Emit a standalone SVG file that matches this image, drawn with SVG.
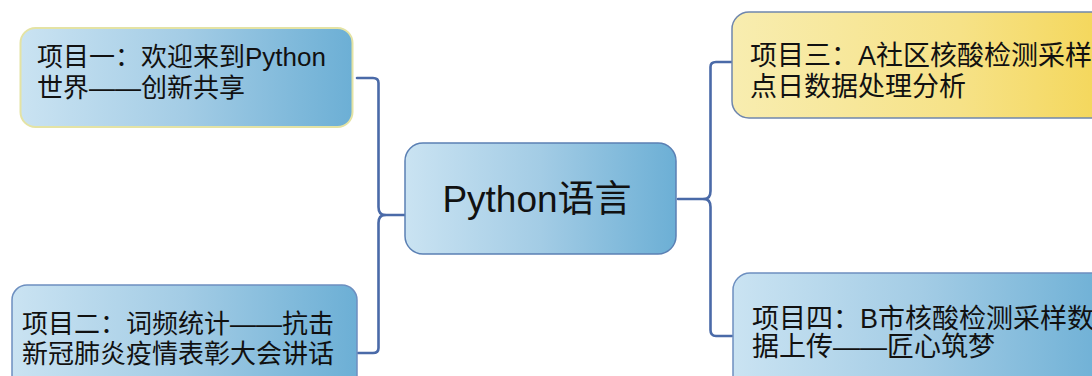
<svg xmlns="http://www.w3.org/2000/svg" width="1092" height="376" viewBox="0 0 1092 376">
  <defs>
    <linearGradient id="blueFill" x1="0" y1="0" x2="1" y2="0">
      <stop offset="0" stop-color="#cae3f2"/>
      <stop offset="0.5" stop-color="#a3cce5"/>
      <stop offset="1" stop-color="#6cafd5"/>
    </linearGradient>
    <linearGradient id="yellowFill" x1="0" y1="0" x2="1" y2="0">
      <stop offset="0" stop-color="#f8edb0"/>
      <stop offset="0.6" stop-color="#f6e287"/>
      <stop offset="1" stop-color="#f4d658"/>
    </linearGradient>
    <style>
      .box-blue { fill: url(#blueFill); stroke: #6d8fc0; stroke-width: 1.5; }
      .box-blue-y { fill: url(#blueFill); stroke: #e4e3a4; stroke-width: 2; }
      .box-yellow { fill: url(#yellowFill); stroke: #6f86ad; stroke-width: 1.5; }
      .box-center { fill: url(#blueFill); stroke: #5b80b4; stroke-width: 1.5; }
      .label { font-family: "Liberation Sans", "Noto Sans CJK SC", sans-serif; font-size: 26px; fill: #111; }
      .label-wide { font-size: 27px; }
      .title { font-family: "Liberation Sans", "Noto Sans CJK SC", sans-serif; font-size: 37px; fill: #111; }
      .link { fill: none; stroke: #4a6aa8; stroke-width: 2.6; stroke-linecap: round; stroke-linejoin: round; }
    </style>
  </defs>

  <rect width="1092" height="376" fill="#ffffff"/>

  <!-- connectors: a brace on each side of the central topic -->
  <g id="connectors">
    <path class="link" d="M357 78 H373 Q378.5 78 378.5 83 V207 Q378.5 215 385 215 Q378.5 215 378.5 223 V348 Q378.5 353 373 353 H358"/>
    <path class="link" d="M385 215 H408"/>
    <path class="link" d="M732 62 H716 Q710.5 62 710.5 67 V191 Q710.5 199 704 199 Q710.5 199 710.5 207 V330 Q710.5 336 716 336 H732"/>
    <path class="link" d="M678 199 H704"/>
  </g>

  <g id="node-project1">
    <rect class="box-blue-y" x="20.5" y="28" width="332" height="99" rx="15"/>
    <text class="label"><tspan x="37" y="66">项目一：欢迎来到Python</tspan><tspan x="37" y="97">世界——创新共享</tspan></text>
  </g>

  <g id="node-project2">
    <rect class="box-blue" x="12" y="285" width="345" height="110" rx="15"/>
    <text class="label"><tspan x="22" y="333">项目二：词频统计——抗击</tspan><tspan x="22" y="363">新冠肺炎疫情表彰大会讲话</tspan></text>
  </g>

  <g id="node-python">
    <rect class="box-center" x="405" y="143" width="271" height="111" rx="18"/>
    <text class="title" x="537" y="212" text-anchor="middle">Python语言</text>
  </g>

  <g id="node-project3">
    <rect class="box-yellow" x="732" y="12" width="380" height="106" rx="17"/>
    <text class="label label-wide"><tspan x="750" y="65">项目三：A社区核酸检测采样</tspan><tspan x="750" y="96">点日数据处理分析</tspan></text>
  </g>

  <g id="node-project4">
    <rect class="box-blue" x="733" y="273" width="380" height="120" rx="17"/>
    <text class="label label-wide"><tspan x="752" y="328">项目四：B市核酸检测采样数</tspan><tspan x="752" y="356">据上传——匠心筑梦</tspan></text>
  </g>
</svg>
